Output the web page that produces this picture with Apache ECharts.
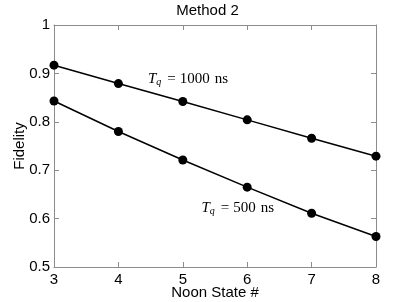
<!DOCTYPE html>
<html><head><meta charset="utf-8">
<script src="https://cdn.jsdelivr.net/npm/echarts@6/dist/echarts.min.js"></script>
<style>html,body{margin:0;padding:0;background:#fff}#c{width:415px;height:302px}</style>
</head><body><div id="c"></div>
<script>
const categories = [3, 4, 5, 6, 7, 8];
const fid1000 = [0.917, 0.879, 0.842, 0.804, 0.766, 0.729];
const fid500 = [0.843, 0.780, 0.721, 0.665, 0.611, 0.563];
const yTicks = [0.5, 0.6, 0.7, 0.8, 0.9, 1];
const labelAnchors = [{x: 4.46, y: 0.888, n: '1000'}, {x: 5.29, y: 0.621, n: '500'}];

const chart = echarts.init(document.getElementById('c'), null, {renderer: 'canvas'});
const fontSans = 'Liberation Sans, Arial, Helvetica, sans-serif';
const fontSerif = 'Liberation Serif, DejaVu Serif, serif';
const axisColor = '#8c8c8c';
const commonX = {
  type: 'value', min: 3, max: 8, interval: 1,
  axisLine: {show: true, lineStyle: {color: axisColor, width: 1}},
  axisTick: {show: true, inside: true, length: 5, lineStyle: {color: axisColor}},
  splitLine: {show: false}
};
const commonY = {
  type: 'value', min: 0.5, max: 1, interval: 0.1,
  axisLine: {show: true, lineStyle: {color: axisColor, width: 1}},
  axisTick: {show: true, inside: true, length: 5, lineStyle: {color: axisColor}},
  splitLine: {show: false}
};
const mkSeries = (vals) => ({
  type: 'line', xAxisIndex: 0, yAxisIndex: 0,
  data: categories.map((c, i) => [c, vals[i]]),
  symbol: 'circle', symbolSize: 9,
  itemStyle: {color: '#000'},
  lineStyle: {color: '#000', width: 1.5},
  animation: false
});
chart.setOption({
  animation: false,
  title: {text: 'Method 2', left: 'center', top: 3, padding: 0,
    textStyle: {fontFamily: fontSans, fontSize: 15, fontWeight: 'normal', color: '#000'}},
  grid: {left: 54, right: 39, top: 25, bottom: 35, outerBoundsMode: 'none', containLabel: false},
  xAxis: [
    Object.assign({}, commonX, {position: 'bottom',
      name: 'Noon State #', nameLocation: 'middle', nameGap: 18, nameMoveOverlap: false,
      nameTextStyle: {fontFamily: fontSans, fontSize: 15, color: '#000'},
      axisLabel: {fontFamily: fontSans, fontSize: 15, color: '#000', margin: 5,
        formatter: v => String(v)}}),
    Object.assign({}, commonX, {position: 'top', axisLabel: {show: false}})
  ],
  yAxis: [
    Object.assign({}, commonY, {position: 'left',
      name: 'Fidelity', nameLocation: 'middle', nameGap: 27, nameMoveOverlap: false,
      nameTextStyle: {fontFamily: fontSans, fontSize: 15, color: '#000'},
      axisLabel: {fontFamily: fontSans, fontSize: 15, color: '#000', margin: 4,
        padding: [6, 0, 0, 0],
        formatter: v => (yTicks.includes(+v.toFixed(1)) ? (+v.toFixed(1)).toString() : '')}}),
    Object.assign({}, commonY, {position: 'right', axisLabel: {show: false}})
  ],
  series: [mkSeries(fid1000), mkSeries(fid500)]
});
const rich = {
  i: {fontFamily: fontSerif, fontStyle: 'italic', fontSize: 15, color: '#000'},
  s: {fontFamily: fontSerif, fontStyle: 'italic', fontSize: 10, color: '#000', padding: [6, 0, 0, 0]},
  e: {fontFamily: fontSerif, fontSize: 15, color: '#000', padding: [0, 4, 0, 6]},
  n: {fontFamily: fontSerif, fontSize: 15, color: '#000', padding: [0, 5, 0, 0]},
  u: {fontFamily: fontSerif, fontSize: 15, color: '#000'}
};
chart.setOption({
  graphic: labelAnchors.map(a => {
    const p = chart.convertToPixel({xAxisIndex: 0, yAxisIndex: 0}, [a.x, a.y]);
    return {type: 'text', x: p[0], y: p[1], style: {
      text: '{i|T}{s|q}{e|=}{n|' + a.n + '}{u|ns}', rich: rich,
      verticalAlign: 'middle', align: 'left'}};
  })
});
</script></body></html>
